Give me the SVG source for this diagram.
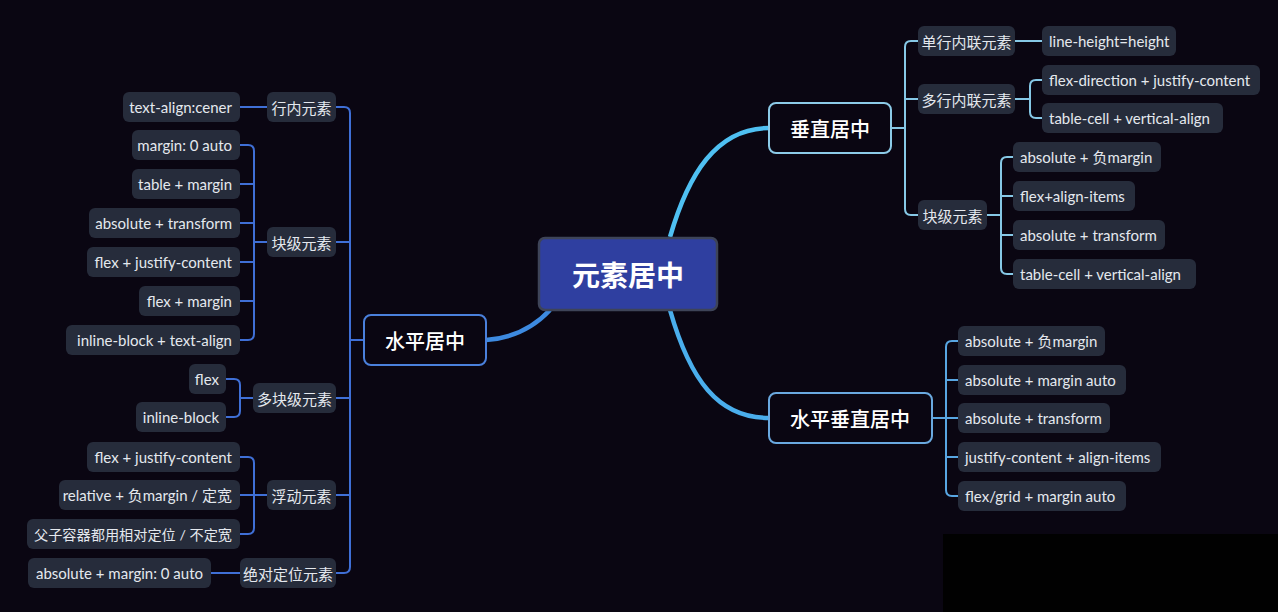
<svg xmlns="http://www.w3.org/2000/svg" width="1278" height="612" viewBox="0 0 1278 612">
<style>
.leaf{fill:#262c3b;}
.lt{font-family:"Lato","Noto Sans","Noto Sans CJK SC",sans-serif;font-size:15px;fill:#e4e8ee;dominant-baseline:central;}
.ct{font-family:"Noto Sans CJK SC",sans-serif;font-size:15px;fill:#e4e8ee;dominant-baseline:central;text-anchor:middle;}
.mt{font-family:"Noto Sans CJK SC",sans-serif;font-size:20px;font-weight:500;fill:#ffffff;dominant-baseline:central;text-anchor:middle;}
.cl{fill:none;stroke-width:2;stroke-linecap:round;stroke-linejoin:round;}
.lb{stroke:#3f6fd6;}
.rv{stroke:#86c8e6;}
.rh{stroke:#58a6e2;}
</style>
<rect x="0" y="0" width="1278" height="612" fill="#0a0612"/>
<rect x="943" y="534" width="335" height="78" fill="#010101"/>

<g id="connectors">
  <path d="M670,237 C688,175 716,128 769,128" fill="none" stroke="#4fc0f2" stroke-width="4.5"/>
  <path d="M670,310 C690,380 718,418 769,418" fill="none" stroke="#4aaeec" stroke-width="4.5"/>
  <path d="M486,340 C515,338 535,326 550,310" fill="none" stroke="#3d8ae0" stroke-width="4.5"/>
  <path class="cl lb" d="M336,107 H344 Q350,107 350,113 V567 Q350,573 344,573 H336"/>
  <path class="cl lb" d="M364,340 H350 M350,242 H336 M350,398 H336 M350,495 H336"/>
  <path class="cl lb" d="M240,107 H268"/>
  <path class="cl lb" d="M240,145 H248 Q254,145 254,151 V334 Q254,340 248,340 H240 M254,184 H240 M254,223 H240 M254,262 H240 M254,301 H240 M254,242 H268"/>
  <path class="cl lb" d="M226,379 H234 Q240,379 240,385 V411 Q240,417 234,417 H226 M240,398 H253"/>
  <path class="cl lb" d="M240,457 H248 Q254,457 254,463 V528 Q254,534 248,534 H240 M240,495 H267"/>
  <path class="cl lb" d="M211,573 H240"/>
  <path class="cl rv" d="M891,128 H905 M918,41 H911 Q905,41 905,47 V209 Q905,215 911,215 H918 M905,99 H918"/>
  <path class="cl rv" d="M1015,41 H1042"/>
  <path class="cl rv" d="M1042,80 H1036 Q1030,80 1030,86 V112 Q1030,118 1036,118 H1042 M1015,99 H1030"/>
  <path class="cl rv" d="M1013,157 H1007 Q1001,157 1001,163 V268 Q1001,274 1007,274 H1013 M1001,196 H1013 M1001,235 H1013 M987,215 H1001"/>
  <path class="cl rh" d="M932,418 H946 M958,341 H952 Q946,341 946,347 V490 Q946,496 952,496 H958 M946,380 H958 M946,418 H958 M946,457 H958"/>
</g>

<g id="root">
  <rect x="539" y="238" width="178" height="72" rx="6" fill="#2f3fa0" stroke="#3e4458" stroke-width="2.5"/>
  <text x="628" y="274" font-family="Noto Sans CJK SC, sans-serif" font-size="28" font-weight="700" fill="#ffffff" text-anchor="middle" dominant-baseline="central">元素居中</text>
</g>

<g id="n-hz">
  <rect x="364" y="315" width="122" height="50" rx="7" fill="#0a0612" stroke="#4a80dc" stroke-width="2"/>
  <text class="mt" x="425" y="340">水平居中</text>
</g>
<g id="n-vt">
  <rect x="769" y="103" width="122" height="50" rx="7" fill="#0a0612" stroke="#8ccbe8" stroke-width="2"/>
  <text class="mt" x="830" y="128">垂直居中</text>
</g>
<g id="n-hv">
  <rect x="769" y="393" width="163" height="50" rx="7" fill="#0a0612" stroke="#6aa9e0" stroke-width="2"/>
  <text class="mt" x="850" y="418">水平垂直居中</text>
</g>

<g id="l-inline"><rect class="leaf" x="267" y="92" width="69" height="30" rx="6"/><text class="ct" x="301.5" y="107">行内元素</text></g>
<g id="l-block"><rect class="leaf" x="267" y="227" width="69" height="30" rx="6"/><text class="ct" x="301.5" y="242">块级元素</text></g>
<g id="l-multi"><rect class="leaf" x="253" y="383" width="83" height="30" rx="6"/><text class="ct" x="294.5" y="398">多块级元素</text></g>
<g id="l-float"><rect class="leaf" x="267" y="480" width="69" height="30" rx="6"/><text class="ct" x="301.5" y="495">浮动元素</text></g>
<g id="l-abs"><rect class="leaf" x="240" y="558" width="96" height="30" rx="6"/><text class="ct" x="288" y="573">绝对定位元素</text></g>

<g id="l1"><rect class="leaf" x="123" y="92" width="117" height="30" rx="6"/><text class="lt" x="232" y="107" text-anchor="end">text-align:cener</text></g>
<g id="l2"><rect class="leaf" x="132" y="130" width="108" height="30" rx="6"/><text class="lt" x="232" y="145" text-anchor="end">margin: 0 auto</text></g>
<g id="l3"><rect class="leaf" x="132" y="169" width="108" height="30" rx="6"/><text class="lt" x="232" y="184" text-anchor="end">table + margin</text></g>
<g id="l4"><rect class="leaf" x="89" y="208" width="151" height="30" rx="6"/><text class="lt" x="232" y="223" text-anchor="end">absolute + transform</text></g>
<g id="l5"><rect class="leaf" x="87" y="247" width="153" height="30" rx="6"/><text class="lt" x="232" y="262" text-anchor="end">flex + justify-content</text></g>
<g id="l6"><rect class="leaf" x="139" y="286" width="101" height="30" rx="6"/><text class="lt" x="232" y="301" text-anchor="end">flex + margin</text></g>
<g id="l7"><rect class="leaf" x="66" y="325" width="174" height="30" rx="6"/><text class="lt" x="232" y="340" text-anchor="end">inline-block + text-align</text></g>
<g id="l8"><rect class="leaf" x="189" y="364" width="37" height="30" rx="6"/><text class="lt" x="219" y="379" text-anchor="end">flex</text></g>
<g id="l9"><rect class="leaf" x="136" y="402" width="90" height="30" rx="6"/><text class="lt" x="219" y="417" text-anchor="end">inline-block</text></g>
<g id="l10"><rect class="leaf" x="87" y="442" width="153" height="30" rx="6"/><text class="lt" x="232" y="457" text-anchor="end">flex + justify-content</text></g>
<g id="l11"><rect class="leaf" x="59" y="480" width="181" height="30" rx="6"/><text class="lt" x="232" y="495" text-anchor="end">relative + 负margin / 定宽</text></g>
<g id="l12"><rect class="leaf" x="27" y="519" width="213" height="30" rx="6"/><text class="lt" x="232" y="534" text-anchor="end" style="font-size:14px" textLength="198" lengthAdjust="spacingAndGlyphs">父子容器都用相对定位 / 不定宽</text></g>
<g id="l13"><rect class="leaf" x="28" y="558" width="183" height="30" rx="6"/><text class="lt" x="203" y="573" text-anchor="end">absolute + margin: 0 auto</text></g>

<g id="r-single"><rect class="leaf" x="918" y="26" width="97" height="30" rx="6"/><text class="ct" x="966.5" y="41">单行内联元素</text></g>
<g id="r-multi"><rect class="leaf" x="918" y="84" width="97" height="30" rx="6"/><text class="ct" x="966.5" y="99">多行内联元素</text></g>
<g id="r-block"><rect class="leaf" x="918" y="200" width="69" height="30" rx="6"/><text class="ct" x="952.5" y="215">块级元素</text></g>

<g id="r1"><rect class="leaf" x="1042" y="26" width="134" height="30" rx="6"/><text class="lt" x="1049" y="41">line-height=height</text></g>
<g id="r2"><rect class="leaf" x="1042" y="65" width="218" height="30" rx="6"/><text class="lt" x="1049" y="80">flex-direction + justify-content</text></g>
<g id="r3"><rect class="leaf" x="1042" y="103" width="181" height="30" rx="6"/><text class="lt" x="1049" y="118">table-cell + vertical-align</text></g>
<g id="r4"><rect class="leaf" x="1013" y="142" width="148" height="30" rx="6"/><text class="lt" x="1020" y="157">absolute + 负margin</text></g>
<g id="r5"><rect class="leaf" x="1013" y="181" width="122" height="30" rx="6"/><text class="lt" x="1020" y="196">flex+align-items</text></g>
<g id="r6"><rect class="leaf" x="1013" y="220" width="152" height="30" rx="6"/><text class="lt" x="1020" y="235">absolute + transform</text></g>
<g id="r7"><rect class="leaf" x="1013" y="259" width="183" height="30" rx="6"/><text class="lt" x="1020" y="274">table-cell + vertical-align</text></g>

<g id="h1"><rect class="leaf" x="958" y="326" width="147" height="30" rx="6"/><text class="lt" x="965" y="341">absolute + 负margin</text></g>
<g id="h2"><rect class="leaf" x="958" y="365" width="168" height="30" rx="6"/><text class="lt" x="965" y="380">absolute + margin auto</text></g>
<g id="h3"><rect class="leaf" x="958" y="403" width="152" height="30" rx="6"/><text class="lt" x="965" y="418">absolute + transform</text></g>
<g id="h4"><rect class="leaf" x="958" y="442" width="203" height="30" rx="6"/><text class="lt" x="965" y="457">justify-content + align-items</text></g>
<g id="h5"><rect class="leaf" x="958" y="481" width="168" height="30" rx="6"/><text class="lt" x="965" y="496">flex/grid + margin auto</text></g>
</svg>
